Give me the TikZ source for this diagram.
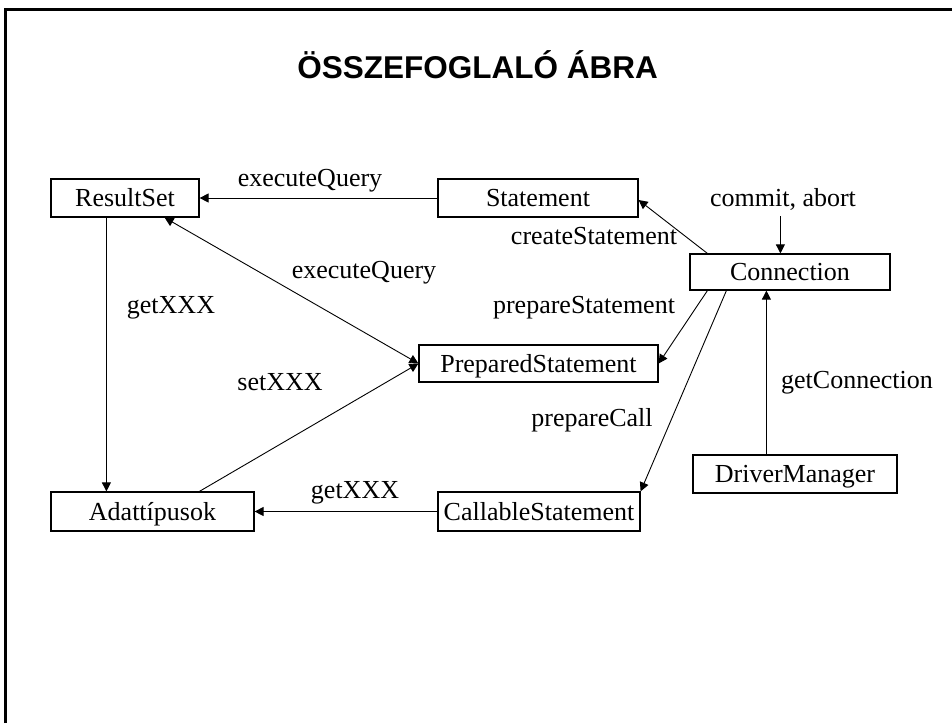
\documentclass[tikz,border=0pt]{standalone}
\usepackage{fontspec}
\setmainfont{Liberation Serif}
\newfontfamily\titlefont{Liberation Sans}
\usetikzlibrary{arrows.meta,calc}
\begin{document}
\begin{tikzpicture}[x=1pt,y=-1pt,
  txt/.style={font=\fontsize{26}{30}\selectfont},
  box/.style={txt,draw,line width=1.2pt,inner sep=0pt,minimum height=#1,text height=22pt,text depth=4.6pt},
  box/.default=38pt,
  lbl/.style={txt,inner sep=0pt},
  conn/.style={line width=0.9pt,-{Triangle[length=9pt,width=9pt]}},
  conn2/.style={line width=0.9pt,{Triangle[length=9pt,width=9pt]}-{Triangle[length=9pt,width=9pt]}}]
\useasboundingbox (0,0) rectangle (952,723);
% frame
\draw[line width=3pt] (5.5,723) -- (5.5,9.3) -- (952,9.3);
% title
\node[font=\titlefont\bfseries\fontsize{31.5}{36}\selectfont,anchor=base,inner sep=0pt] (title) at (477.5,78.3) {ÖSSZEFOGLALÓ ÁBRA};
% boxes
\node[box,minimum width=148pt] (RS) at (125,198) {ResultSet};
\node[box,minimum width=200pt] (ST) at (538,198) {Statement};
\node[box=36pt,minimum width=200pt] (CO) at (790,272) {Connection};
\node[box=37pt,minimum width=239pt] (PS) at (538.5,363.5) {PreparedStatement};
\node[box,minimum width=204pt] (DM) at (795,474) {DriverManager};
\node[box=39pt,minimum width=203pt] (AD) at (152.5,511.5) {Adattípusok};
\node[box=39pt,minimum width=202pt] (CS) at (539,511.5) {CallableStatement};
% labels
\node[lbl] (l1) at (310,181) {executeQuery};
\node[lbl] (l2) at (364,273) {executeQuery};
\node[lbl] (l3) at (171,308) {getXXX};
\node[lbl] (l4) at (280,382) {setXXX};
\node[lbl] (l5) at (355,493) {getXXX};
\node[lbl] (l6) at (594,236) {createStatement};
\node[lbl] (l7) at (783,199) {commit, abort};
\node[lbl] (l8) at (584,308) {prepareStatement};
\node[lbl] (l9) at (592,420) {prepareCall};
\node[lbl] (l10) at (857,383) {getConnection};
% connectors
\coordinate (ca) at ($(CO.north west)+(91,-37)$);
\draw[conn] (ST.west) -- (RS.east);
\draw[conn2] ($(RS.south east)+(-35,0)$) -- (PS.west);
\draw[conn] ($(RS.south west)+(56,0)$) -- ($(AD.north west)+(56,0)$);
\draw[conn] ($(AD.north west)+(149,0)$) -- (PS.west);
\draw[conn] (CS.west) -- (AD.east);
\draw[conn] ($(CO.north west)+(18,0)$) -- ($(ST.east)+(0,2)$);
\draw[conn] (ca) -- ($(CO.north west)+(91,0)$);
\draw[conn] ($(CO.south west)+(18,0)$) -- (PS.east);
\draw[conn] ($(CO.south west)+(37,0)$) -- (CS.north east);
\draw[conn] ($(DM.north west)+(74,0)$) -- ($(CO.south west)+(77,0)$);
\end{tikzpicture}
\end{document}
